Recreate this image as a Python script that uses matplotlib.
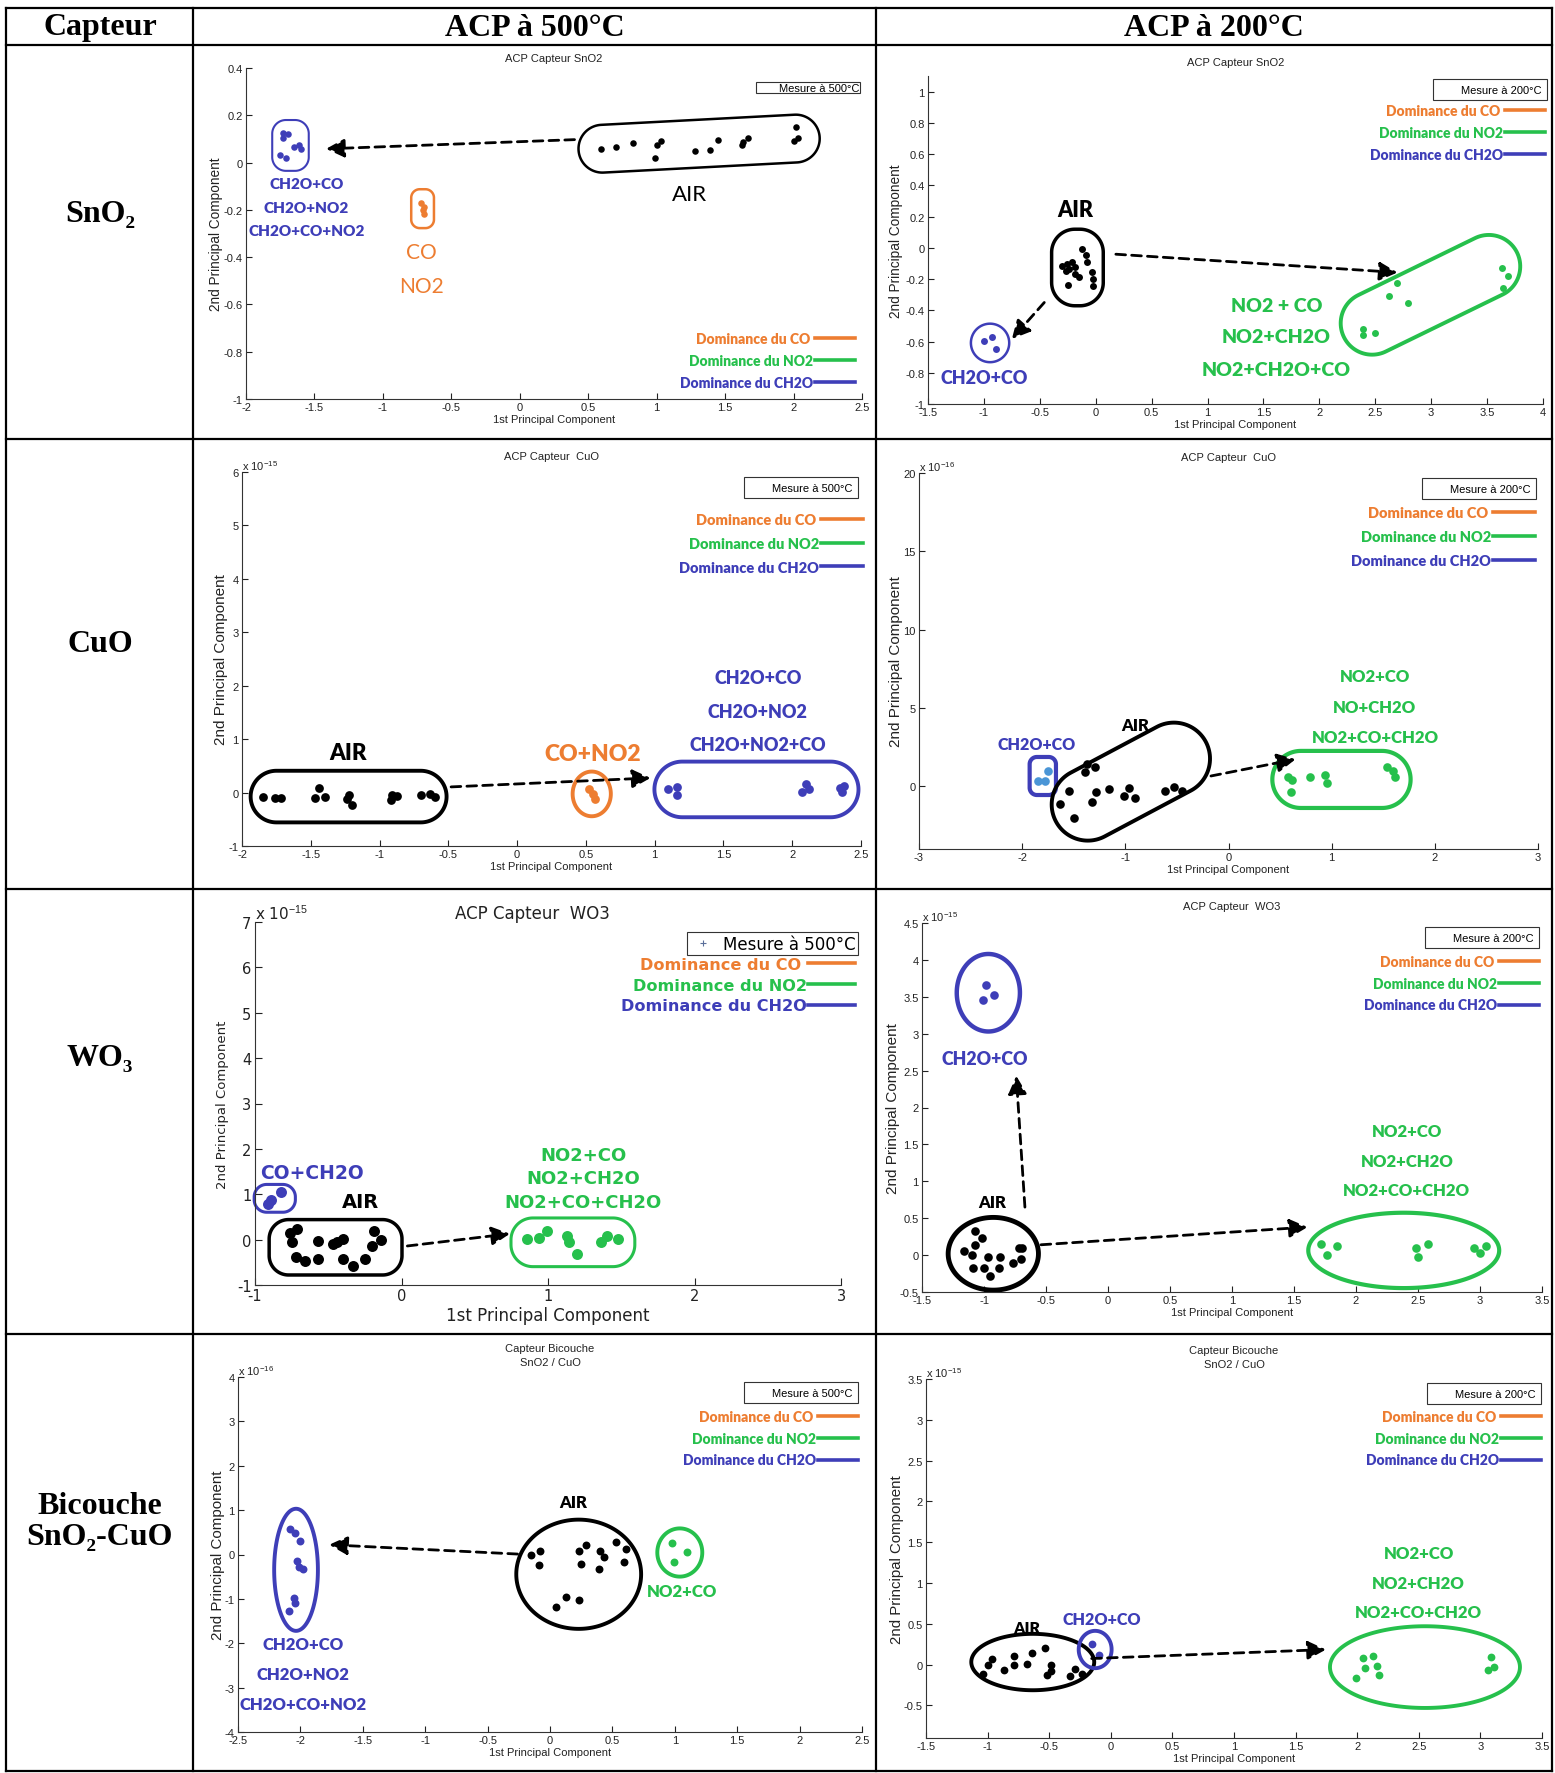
import numpy as np
import matplotlib
matplotlib.use('Agg')
import matplotlib.pyplot as plt
from matplotlib.lines import Line2D
from matplotlib.legend import Legend
from matplotlib.patches import Polygon
from matplotlib.ticker import FormatStrFormatter

W, H = 1555, 1774

# ---- scores (PC1, PC2; PC2 in axis units) ----
# SnO2, 500 C
sno2_500_air_x = [0.59, 0.70, 0.83, 1.00, 1.03, 0.99, 1.28, 1.39, 1.45, 1.62, 1.63, 1.67, 2.00, 2.02, 2.03]
sno2_500_air_y = [0.056, 0.064, 0.081, 0.075, 0.092, 0.020, 0.050, 0.053, 0.097, 0.073, 0.085, 0.102, 0.091, 0.152, 0.104]
sno2_500_ch2o_x = [-1.73, -1.69, -1.73, -1.65, -1.61, -1.60, -1.75, -1.71]
sno2_500_ch2o_y = [0.125, 0.119, 0.105, 0.066, 0.075, 0.058, 0.032, 0.020]
sno2_500_co_x = [-0.72, -0.70, -0.71, -0.70]
sno2_500_co_y = [-0.172, -0.186, -0.200, -0.218]
# SnO2, 200 C
sno2_200_air_x = [-0.305, -0.255, -0.208, -0.267, -0.236, -0.181, -0.150, -0.119, -0.084, -0.080, -0.034, -0.026, -0.022, -0.251, -0.189]
sno2_200_air_y = [-0.115, -0.104, -0.090, -0.151, -0.136, -0.168, -0.190, -0.009, -0.047, -0.090, -0.158, -0.200, -0.243, -0.239, -0.126]
sno2_200_ch2o_x = [-1.00, -0.93, -0.89]
sno2_200_ch2o_y = [-0.599, -0.569, -0.649]
sno2_200_no2_x = [2.69, 2.62, 2.79, 2.39, 2.39, 2.50, 3.63, 3.69, 3.64]
sno2_200_no2_y = [-0.226, -0.309, -0.354, -0.520, -0.559, -0.548, -0.132, -0.179, -0.256]
# CuO, 500 C (PC2 x 1e-15)
cuo_500_air_x = [-1.85, -1.76, -1.72, -1.47, -1.44, -1.40, -1.24, -1.22, -1.20, -0.92, -0.91, -0.87, -0.70, -0.63, -0.60]
cuo_500_air_y = [-0.08, -0.11, -0.11, -0.10, 0.09, -0.08, -0.12, -0.05, -0.24, -0.13, -0.04, -0.06, -0.04, -0.02, -0.08]
cuo_500_co_x = [0.52, 0.55, 0.565]
cuo_500_co_y = [0.075, -0.02, -0.125]
cuo_500_ch2o_x = [1.10, 1.16, 1.16, 2.07, 2.10, 2.12, 2.35, 2.38, 2.36]
cuo_500_ch2o_y = [0.075, 0.106, -0.05, 0.012, 0.168, 0.075, 0.087, 0.119, 0.012]
# CuO, 200 C (PC2 x 1e-16)
cuo_200_air_x = [-1.63, -1.55, -1.50, -1.39, -1.37, -1.29, -1.28, -1.32, -1.16, -1.01, -0.96, -0.91, -0.62, -0.53, -0.45]
cuo_200_air_y = [-1.15, -0.30, -2.05, 0.94, 1.41, 1.26, -0.36, -0.98, -0.15, -0.62, -0.09, -0.73, -0.30, -0.02, -0.30]
cuo_200_ch2o_x = [-1.85, -1.78, -1.75]
cuo_200_ch2o_y = [0.34, 0.34, 0.98]
cuo_200_no2_x = [0.58, 0.62, 0.61, 0.79, 0.94, 0.95, 1.54, 1.59, 1.61]
cuo_200_no2_y = [0.60, 0.41, -0.36, 0.62, 0.71, 0.24, 1.24, 0.98, 0.60]
# WO3, 500 C (PC2 x 1e-15)
wo3_500_air_x = [-0.76, -0.71, -0.75, -0.72, -0.66, -0.57, -0.57, -0.47, -0.44, -0.40, -0.40, -0.33, -0.25, -0.20, -0.19, -0.14]
wo3_500_air_y = [0.155, 0.243, -0.044, -0.383, -0.471, -0.434, -0.029, -0.103, -0.052, 0.007, -0.419, -0.581, -0.434, -0.140, 0.191, -0.007]
wo3_500_ch2o_x = [-0.91, -0.89, -0.82]
wo3_500_ch2o_y = [0.78, 0.87, 1.04]
wo3_500_no2_x = [0.86, 0.94, 0.99, 1.13, 1.14, 1.20, 1.36, 1.40, 1.48]
wo3_500_no2_y = [0.022, 0.044, 0.191, 0.081, -0.044, -0.309, -0.044, 0.081, 0.022]
# WO3, 200 C (PC2 x 1e-15)
wo3_200_air_x = [-1.16, -1.10, -1.09, -1.07, -1.07, -1.02, -1.00, -0.97, -0.95, -0.88, -0.87, -0.77, -0.72, -0.69, -0.70]
wo3_200_air_y = [0.050, -0.005, -0.172, 0.321, 0.140, 0.230, -0.172, -0.027, -0.285, -0.172, -0.027, -0.104, 0.099, 0.099, -0.050]
wo3_200_ch2o_x = [-0.98, -0.92, -1.01]
wo3_200_ch2o_y = [3.66, 3.53, 3.45]
wo3_200_no2_x = [1.72, 1.77, 1.85, 2.48, 2.58, 2.50, 2.95, 3.00, 3.05]
wo3_200_no2_y = [0.154, 0.005, 0.117, 0.099, 0.154, -0.027, 0.099, 0.027, 0.117]
# bilayer SnO2/CuO, 500 C (PC2 x 1e-16)
bi_500_ch2o_x = [-2.08, -2.04, -2.00, -2.03, -2.01, -1.98, -2.05, -2.04, -2.09]
bi_500_ch2o_y = [0.58, 0.49, 0.31, -0.15, -0.28, -0.33, -0.99, -1.10, -1.27]
bi_500_air_x = [-0.15, -0.08, -0.09, 0.23, 0.29, 0.25, 0.40, 0.43, 0.39, 0.53, 0.61, 0.59, 0.13, 0.05, 0.23]
bi_500_air_y = [0.00, 0.09, -0.24, 0.07, 0.21, -0.21, 0.07, -0.06, -0.33, 0.29, 0.12, -0.18, -0.95, -1.18, -1.02]
bi_500_no2_x = [0.98, 1.10, 0.99]
bi_500_no2_y = [0.25, 0.05, -0.16]
# bilayer SnO2/CuO, 200 C (PC2 x 1e-15)
bi_200_air_x = [-1.035, -0.993, -0.965, -0.866, -0.782, -0.782, -0.683, -0.637, -0.535, -0.489, -0.514, -0.482, -0.331, -0.289, -0.232]
bi_200_air_y = [-0.115, 0.000, 0.074, -0.061, 0.102, 0.000, 0.012, 0.143, 0.205, 0.000, -0.123, -0.074, -0.143, -0.049, -0.111]
bi_200_ch2o_x = [-0.155, -0.099]
bi_200_ch2o_y = [0.254, 0.115]
bi_200_no2_x = [1.99, 2.05, 2.06, 2.13, 2.16, 2.18, 3.09, 3.11, 3.06]
bi_200_no2_y = [-0.164, 0.082, -0.041, 0.102, -0.012, -0.131, 0.090, -0.033, -0.061]

col_titles = ['Capteur', 'ACP à 500°C', 'ACP à 200°C']
row_titles = ['SnO₂', 'CuO', 'WO₃', 'Bicouche\nSnO₂-CuO']
dom_labels = ['Dominance du CO ', 'Dominance du NO2', 'Dominance du CH2O']

plt.rcParams['axes.unicode_minus'] = False
plt.rcParams['mathtext.fontset'] = 'custom'
plt.rcParams['mathtext.rm'] = 'Liberation Sans'

ORANGE = '#ED7D31'
GREEN = '#26C04C'
BLUE = '#3E3EB8'
LBLUE = '#4A95D6'
MAT = 'Liberation Sans'
CAL = 'Lato'
WIDE = 'DejaVu Sans'
SERIF = ['Liberation Serif', 'DejaVu Serif']
HEAVY = 'heavy'

fig = plt.figure(figsize=(W / 100, H / 100), dpi=100)


def frect(l, t, r, b):
    return [l / W, 1 - b / H, (r - l) / W, (b - t) / H]


def fpt(x, y):
    return (x / W, 1 - y / H)


def ticks(lo, hi, step):
    k0 = np.ceil(lo / step - 1e-9)
    k1 = np.floor(hi / step + 1e-9)
    return np.round(np.arange(k0, k1 + 1) * step, 6) + 0.0


def enclose(ax, xs, ys, color, shape='stadium', pad=(12, 12), angle=0, lw=2.5, rf=1.0, off=(0, 0)):
    # hand-drawn style ring around a cluster, built in pixel space
    pts = ax.transData.transform(np.column_stack([xs, ys]))
    c0 = pts.mean(axis=0)
    th = np.radians(angle)
    R = np.array([[np.cos(th), -np.sin(th)], [np.sin(th), np.cos(th)]])
    loc = (pts - c0) @ R
    lo, hi = loc.min(0), loc.max(0)
    mid = (lo + hi) / 2
    a = (hi[0] - lo[0]) / 2 + pad[0]
    b = (hi[1] - lo[1]) / 2 + pad[1]
    if shape == 'ellipse':
        t = np.linspace(0, 2 * np.pi, 200)
        v = np.column_stack([a * np.cos(t), b * np.sin(t)])
    else:
        r = rf * min(a, b)
        v = []
        for sx, sy, t0 in [(1, 1, 0), (-1, 1, 90), (-1, -1, 180), (1, -1, 270)]:
            t = np.radians(np.linspace(t0, t0 + 90, 30))
            v.append(np.column_stack([sx * (a - r) + r * np.cos(t), sy * (b - r) + r * np.sin(t)]))
        v = np.vstack(v)
    v = (v + mid) @ R.T + c0 + np.asarray(off)
    ax.add_patch(Polygon(ax.transData.inverted().transform(v), closed=True, fill=False,
                         edgecolor=color, lw=lw, joinstyle='round', clip_on=False, zorder=2))


panels = [
    dict(box=(246, 69, 862, 400), xlim=(-2, 2.5), ylim=(-1, 0.4), xs=0.5, ys=0.2,
         title='ACP Capteur SnO2', tpad=5, tx=0.5, exp=None, big=False, ms=4.7, yl=(9.8, 0),
         groups=[(sno2_500_air_x, sno2_500_air_y, 'k', 'k', dict(pad=(22, 12), angle=3, lw=1.8)),
                 (sno2_500_ch2o_x, sno2_500_ch2o_y, BLUE, BLUE, dict(shape='rrect', pad=(8, 13), rf=0.75, lw=1.5)),
                 (sno2_500_co_x, sno2_500_co_y, ORANGE, ORANGE, dict(shape='rrect', pad=(10, 14), rf=0.75, lw=1.8))],
         labels=[('CH2O+CO', -1.56, -0.09, BLUE, 11, HEAVY),
                 ('CH2O+NO2', -1.56, -0.188, BLUE, 11, HEAVY),
                 ('CH2O+CO+NO2', -1.56, -0.287, BLUE, 11, HEAVY),
                 ('CO', -0.72, -0.379, ORANGE, 15, 'normal'),
                 ('NO2', -0.72, -0.523, ORANGE, 15, 'normal'),
                 ('AIR', 1.24, -0.132, 'k', 16, 'normal')],
         arrows=[((0.40, 0.097), (-1.415, 0.058))],
         mesure=('Mesure à 500°C', 860, 83, 0.05), leg=(855, 333, 0.63, 10)),
    dict(box=(928, 77, 1543, 405), xlim=(-1.5, 4), ylim=(-1, 1.1), xs=0.5, ys=0.2,
         title='ACP Capteur SnO2', tpad=7.7, tx=0.5, exp=None, big=False, ms=5, yl=(9.8, 1.5),
         groups=[(sno2_200_air_x, sno2_200_air_y, 'k', 'k', dict(shape='rrect', pad=(10, 20), rf=0.9, lw=2.5)),
                 (sno2_200_ch2o_x, sno2_200_ch2o_y, BLUE, BLUE, dict(shape='ellipse', pad=(13, 13), lw=1.8)),
                 (sno2_200_no2_x, sno2_200_no2_y, GREEN, GREEN, dict(pad=(18, 6), angle=26, lw=2.8))],
         labels=[('AIR', -0.18, 0.247, 'k', 15.5, HEAVY),
                 ('CH2O+CO', -1.0, -0.829, BLUE, 13, HEAVY),
                 ('NO2 + CO', 1.615, -0.371, GREEN, 14, HEAVY),
                 ('NO2+CH2O', 1.615, -0.567, GREEN, 14, HEAVY),
                 ('NO2+CH2O+CO', 1.615, -0.776, GREEN, 14, HEAVY)],
         arrows=[((0.18, -0.041), (2.70, -0.158)), ((-0.46, -0.35), (-0.75, -0.584))],
         mesure=('Mesure à 200°C', 1547, 80, 0.5), leg=(1545, 105, 0.63, 10)),
    dict(box=(242, 473, 861, 847), xlim=(-2, 2.5), ylim=(-1, 6), xs=0.5, ys=1,
         title='ACP Capteur  CuO', tpad=9.4, tx=0.5, exp=15, big=False, ms=6.3, yl=(11, 0.7),
         groups=[(cuo_500_air_x, cuo_500_air_y, 'k', 'k', dict(pad=(12, 17), lw=2.8)),
                 (cuo_500_co_x, cuo_500_co_y, ORANGE, ORANGE, dict(shape='ellipse', pad=(16, 17), lw=2.8)),
                 (cuo_500_ch2o_x, cuo_500_ch2o_y, BLUE, BLUE, dict(pad=(14, 22), lw=2.8))],
         labels=[('AIR', -1.23, 0.75, 'k', 16, HEAVY),
                 ('CO+NO2', 0.55, 0.73, ORANGE, 16.5, HEAVY),
                 ('CH2O+CO', 1.75, 2.146, BLUE, 13, HEAVY),
                 ('CH2O+NO2', 1.75, 1.522, BLUE, 13, HEAVY),
                 ('CH2O+NO2+CO', 1.75, 0.898, BLUE, 13, HEAVY)],
         arrows=[((-0.48, 0.106), (0.97, 0.274))],
         mesure=('Mesure à 500°C', 858, 478, 0.5), leg=(863, 514, 0.74, 10.5)),
    dict(box=(919, 474, 1538, 850), xlim=(-3, 3), ylim=(-4, 20), xs=1, ys=5,
         title='ACP Capteur  CuO', tpad=9.4, tx=0.5, exp=16, big=False, ms=6.2, yl=(11, 0),
         groups=[(cuo_200_ch2o_x, cuo_200_ch2o_y, LBLUE, BLUE, dict(shape='rrect', pad=(8, 14), rf=0.55, lw=3)),
                 (cuo_200_air_x, cuo_200_air_y, 'k', 'k', dict(pad=(28, 2), angle=28, lw=2.8, off=(15, 6))),
                 (cuo_200_no2_x, cuo_200_no2_y, GREEN, GREEN, dict(pad=(16, 16), lw=3))],
         labels=[('CH2O+CO', -1.86, 2.69, BLUE, 11.5, HEAVY),
                 ('AIR', -0.90, 3.91, 'k', 12, HEAVY),
                 ('NO2+CO', 1.42, 7.03, GREEN, 12, HEAVY),
                 ('NO+CH2O', 1.42, 5.04, GREEN, 12, HEAVY),
                 ('NO2+CO+CH2O', 1.42, 3.16, GREEN, 12, HEAVY)],
         arrows=[((-0.17, 0.66), (0.65, 1.73))],
         mesure=('Mesure à 200°C', 1536, 479, 0.5), leg=(1535, 507, 0.77, 10.5)),
    dict(box=(255, 923, 841, 1286), xlim=(-1, 3), ylim=(-1, 7), xs=1, ys=1,
         title='ACP Capteur  WO3', tpad=0.8, tx=0.474, exp=15, big=True, ms=7.9, yl=(9.5, 5.4),
         groups=[(wo3_500_ch2o_x, wo3_500_ch2o_y, BLUE, BLUE, dict(shape='rrect', pad=(14, 8), rf=0.9, lw=2.2)),
                 (wo3_500_air_x, wo3_500_air_y, 'k', 'k', dict(shape='rrect', pad=(21, 9), rf=0.7, lw=2.5)),
                 (wo3_500_no2_x, wo3_500_no2_y, GREEN, GREEN, dict(shape='rrect', pad=(16.5, 13), rf=0.9, lw=2.2))],
         labels=[('CO+CH2O', -0.61, 1.48, BLUE, 13.5, 'bold'),
                 ('AIR', -0.28, 0.83, 'k', 14, 'bold'),
                 ('NO2+CO', 1.24, 1.86, GREEN, 13, 'bold'),
                 ('NO2+CH2O', 1.24, 1.35, GREEN, 13, 'bold'),
                 ('NO2+CO+CH2O', 1.24, 0.83, GREEN, 13, 'bold')],
         arrows=[((0.04, -0.14), (0.74, 0.13))],
         mesure=('Mesure à 500°C', 858, 933, 0.15), leg=(855, 958, 0.35, 11.6)),
    dict(box=(922, 924, 1542, 1293), xlim=(-1.5, 3.5), ylim=(-0.5, 4.5), xs=0.5, ys=0.5,
         title='ACP Capteur  WO3', tpad=10, tx=0.5, exp=15, big=False, ms=6.2, yl=(11, 0),
         groups=[(wo3_200_ch2o_x, wo3_200_ch2o_y, BLUE, BLUE, dict(shape='ellipse', pad=(26, 31), lw=3.2)),
                 (wo3_200_air_x, wo3_200_air_y, 'k', 'k', dict(shape='ellipse', pad=(16, 14), lw=3.5)),
                 (wo3_200_no2_x, wo3_200_no2_y, GREEN, GREEN, dict(shape='ellipse', pad=(13, 31), lw=3))],
         labels=[('CH2O+CO', -0.99, 2.67, BLUE, 12.8, HEAVY),
                 ('AIR', -0.93, 0.72, 'k', 12, HEAVY),
                 ('NO2+CO', 2.41, 1.68, GREEN, 12, HEAVY),
                 ('NO2+CH2O', 2.41, 1.28, GREEN, 12, HEAVY),
                 ('NO2+CO+CH2O', 2.41, 0.876, GREEN, 12, HEAVY)],
         arrows=[((-0.67, 0.65), (-0.74, 2.43)), ((-0.54, 0.14), (1.61, 0.38))],
         mesure=('Mesure à 200°C', 1539, 928, 0.5), leg=(1539, 956, 0.63, 10)),
    dict(box=(238, 1378, 862, 1733), xlim=(-2.5, 2.5), ylim=(-4, 4), xs=0.5, ys=1,
         title='Capteur Bicouche\nSnO2 / CuO', tpad=8.6, tx=0.5, exp=16, big=False, ms=5.7, yl=(10.9, 0),
         groups=[(bi_500_ch2o_x, bi_500_ch2o_y, BLUE, BLUE, dict(shape='ellipse', pad=(15, 20), lw=2.8)),
                 (bi_500_air_x, bi_500_air_y, 'k', 'k', dict(shape='ellipse', pad=(15, 22), lw=2.8)),
                 (bi_500_no2_x, bi_500_no2_y, GREEN, GREEN, dict(shape='ellipse', pad=(15, 15), lw=2.8))],
         labels=[('AIR', 0.19, 1.18, 'k', 12, HEAVY),
                 ('NO2+CO', 1.06, -0.82, GREEN, 12, HEAVY),
                 ('CH2O+CO', -1.98, -2.02, BLUE, 12, HEAVY),
                 ('CH2O+NO2', -1.98, -2.70, BLUE, 12, HEAVY),
                 ('CH2O+CO+NO2', -1.98, -3.37, BLUE, 12, HEAVY)],
         arrows=[((-0.26, 0.01), (-1.77, 0.22))],
         mesure=('Mesure à 500°C', 858, 1383, 0.5), leg=(858, 1411, 0.63, 10)),
    dict(box=(926, 1380, 1542, 1739), xlim=(-1.5, 3.5), ylim=(-0.9, 3.5), xs=0.5, ys=0.5,
         title='Capteur Bicouche\nSnO2 / CuO', tpad=8.6, tx=0.5, exp=15, big=False, ms=5.6, yl=(10.8, 0),
         groups=[(bi_200_air_x, bi_200_air_y, 'k', 'k', dict(shape='ellipse', pad=(12, 14), lw=2.8)),
                 (bi_200_ch2o_x, bi_200_ch2o_y, BLUE, BLUE, dict(shape='ellipse', pad=(13, 13), lw=2.8)),
                 (bi_200_no2_x, bi_200_no2_y, GREEN, GREEN, dict(shape='ellipse', pad=(26, 30), lw=2.8))],
         labels=[('AIR', -0.68, 0.45, 'k', 11.6, HEAVY),
                 ('CH2O+CO', -0.07, 0.553, BLUE, 11.6, HEAVY),
                 ('NO2+CO', 2.50, 1.363, GREEN, 12, HEAVY),
                 ('NO2+CH2O', 2.50, 1.003, GREEN, 12, HEAVY),
                 ('NO2+CO+CH2O', 2.50, 0.647, GREEN, 12, HEAVY)],
         arrows=[((-0.155, 0.074), (1.746, 0.184))],
         mesure=('Mesure à 200°C', 1541, 1384, 0.5), leg=(1541, 1411, 0.63, 10)),
]

for p in panels:
    big = p['big']
    mfont = WIDE if big else MAT
    afont = WIDE if big else CAL
    tfs = 10.5 if big else 8
    ax = fig.add_axes(frect(*p['box']))
    ax.patch.set_alpha(0)
    ax.set_xlim(p['xlim'])
    ax.set_ylim(p['ylim'])
    ax.set_xticks(ticks(*p['xlim'], p['xs']))
    ax.set_yticks(ticks(*p['ylim'], p['ys']))
    ax.xaxis.set_major_formatter(FormatStrFormatter('%g'))
    ax.yaxis.set_major_formatter(FormatStrFormatter('%g'))
    for s in ('top', 'right'):
        ax.spines[s].set_visible(False)
    for s in ('left', 'bottom'):
        ax.spines[s].set_color('#333333')
        ax.spines[s].set_linewidth(0.8)
    ax.tick_params(direction='in', length=5 if big else 4, width=0.8, pad=2.5,
                   labelsize=tfs, colors='#222222')
    for lab in ax.get_xticklabels() + ax.get_yticklabels():
        lab.set_family(mfont)
    ax.set_xlabel('1st Principal Component', family=mfont, fontsize=12 if big else 8,
                  labelpad=2 if big else 1, color='#222222')
    ax.set_ylabel('2nd Principal Component', family=mfont, fontsize=p['yl'][0],
                  labelpad=p['yl'][1], color='#222222')
    ax.set_title(p['title'], family=mfont, fontsize=12 if big else 8, pad=p['tpad'],
                 x=p['tx'], linespacing=1.5, color='#222222')
    if p['exp']:
        ax.text(0.0, 1.0, 'x 10$^{\\mathrm{-%d}}$' % p['exp'], transform=ax.transAxes,
                ha='left', va='bottom', fontsize=11 if big else 8, family=mfont, color='#222222')

    for xs, ys, dcol, rcol, ring in p['groups']:
        ax.plot(xs, ys, 'o', ms=p['ms'], color=dcol, mec='none', zorder=3)
        enclose(ax, xs, ys, rcol, **ring)

    for txt, x, y, col, fs, wt in p['labels']:
        ax.text(x, y, txt, color=col, fontsize=fs, fontweight=wt, family=afont,
                ha='center', va='center', zorder=4)

    for (x0, y0), (x1, y1) in p['arrows']:
        ax.annotate('', xy=(x1, y1), xytext=(x0, y0),
                    arrowprops=dict(arrowstyle='-|>,head_length=0.55,head_width=0.28',
                                    color='k', lw=2.0, linestyle=(0, (3.5, 2.2)),
                                    shrinkA=0, shrinkB=0, mutation_scale=20))

    mtxt, mr, mt, bp = p['mesure']
    h = Line2D([], [], ls='none', marker='+' if big else '', color='#5a6e9a', ms=5, mew=0.8)
    leg = Legend(ax, [h], [mtxt], loc='upper right', bbox_to_anchor=fpt(mr, mt),
                 bbox_transform=fig.transFigure, frameon=True, fancybox=False,
                 edgecolor='#333333', framealpha=1, borderpad=bp, borderaxespad=0,
                 handlelength=1.6, handletextpad=0.4,
                 prop=dict(family=mfont, size=12 if big else 8))
    leg.get_frame().set_linewidth(0.8)
    ax.add_artist(leg)

    lr, lt, lsp, lfs = p['leg']
    hs = [Line2D([], [], color=c, lw=2.6) for c in (ORANGE, GREEN, BLUE)]
    leg2 = Legend(ax, hs, dom_labels, loc='upper right', bbox_to_anchor=fpt(lr, lt),
                  bbox_transform=fig.transFigure, frameon=False, markerfirst=False,
                  labelcolor='linecolor', handlelength=2.9, handletextpad=0.1,
                  borderpad=0, borderaxespad=0, labelspacing=lsp,
                  prop=dict(family=afont, weight='bold' if big else HEAVY, size=lfs))
    ax.add_artist(leg2)

# table grid
rows_y = [9, 46, 440, 890, 1335, 1772]
cols_x = [6, 193, 876, 1552]
for y in rows_y:
    fig.add_artist(Line2D([cols_x[0] / W, cols_x[-1] / W], [1 - y / H] * 2,
                          transform=fig.transFigure, color='k', lw=1.6))
for x in cols_x:
    fig.add_artist(Line2D([x / W] * 2, [1 - rows_y[0] / H, 1 - rows_y[-1] / H],
                          transform=fig.transFigure, color='k', lw=1.6))

for txt, x in zip(col_titles, [100, 535, 1214]):
    fig.text(*fpt(x, 28), txt, family=SERIF, fontweight='bold', fontsize=23,
             ha='center', va='center')
for txt, y in zip(row_titles, [214, 645, 1058, 1522]):
    fig.text(*fpt(100, y), txt, family=SERIF, fontweight='bold', fontsize=23,
             ha='center', va='center', linespacing=1.05)

fig.savefig('out.png', dpi=100)
